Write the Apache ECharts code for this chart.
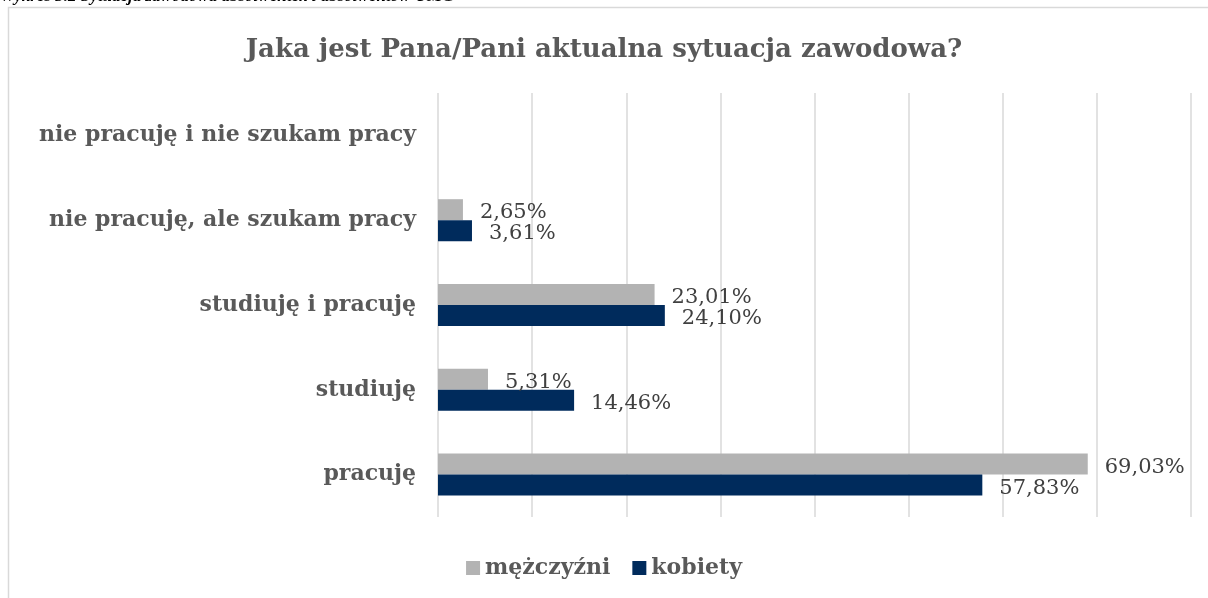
<!DOCTYPE html>
<html>
<head>
<meta charset="utf-8">
<script src="https://cdn.jsdelivr.net/npm/echarts@6/dist/echarts.min.js"></script>
<style>
  html, body { margin: 0; padding: 0; background: #fff; }
  #chart { width: 1208px; height: 598px; }
</style>
</head>
<body>
<div id="chart"></div>
<script>
// kategorie od dołu do góry (oś Y kategorii)
const categories = [
  'pracuję',
  'studiuję',
  'studiuję i pracuję',
  'nie pracuję, ale szukam pracy',
  'nie pracuję i nie szukam pracy'
]
const mezczyzni = [69.03, 5.31, 23.01, 2.65, null]
const kobiety = [57.83, 14.46, 24.10, 3.61, null]
const axisMax = 80
const axisStep = 10

const serif = '"DejaVu Serif", "Liberation Serif", serif'
const fmt = p => p.value == null ? '' : p.value.toFixed(2).replace('.', ',') + '%'

const valueLabel = {
  show: true,
  position: 'right',
  distance: 17,
  offset: [0, 3],
  formatter: fmt,
  fontFamily: serif,
  fontSize: 21,
  color: '#404040'
}

const chart = echarts.init(document.getElementById('chart'))

chart.setOption({
  animation: false,
  title: {
    text: 'Jaka jest Pana/Pani aktualna sytuacja zawodowa?',
    left: 'center',
    top: 32,
    textStyle: { fontFamily: serif, fontSize: 26, fontWeight: 'bold', color: '#595959' }
  },
  graphic: [
    {
      type: 'rect',
      shape: { x: 8.5, y: 7.5, width: 1220, height: 620 },
      style: { fill: 'none', stroke: '#d9d9d9', lineWidth: 1.5 },
      silent: true
    },
    {
      type: 'text',
      left: 0,
      top: -12,
      style: {
        text: 'Wykres 3.2 Sytuacja zawodowa absolwentek i absolwentów UMG',
        font: 'italic bold 17px "Liberation Serif", serif',
        fill: '#000'
      }
    }
  ],
  legend: {
    data: ['mężczyźni', 'kobiety'],
    bottom: 14,
    left: 'center',
    itemWidth: 14,
    itemHeight: 14,
    itemGap: 22,
    icon: 'rect',
    textStyle: { fontFamily: serif, fontSize: 22, fontWeight: 'bold', color: '#595959' }
  },
  grid: { left: 438, right: 17, top: 93, bottom: 81 },
  xAxis: {
    type: 'value',
    min: 0,
    max: axisMax,
    interval: axisStep,
    axisLabel: { show: false },
    axisLine: { show: false },
    axisTick: { show: false },
    splitLine: { show: true, lineStyle: { color: '#d9d9d9', width: 1.5 } }
  },
  yAxis: {
    type: 'category',
    data: categories,
    axisLine: { show: false },
    axisTick: { show: false },
    axisLabel: {
      margin: 22,
      fontFamily: serif,
      fontSize: 22,
      fontWeight: 'bold',
      color: '#595959'
    }
  },
  series: [
    {
      name: 'mężczyźni',
      type: 'bar',
      data: mezczyzni,
      barWidth: 21,
      barGap: '0%',
      itemStyle: { color: '#b3b3b3' },
      label: valueLabel
    },
    {
      name: 'kobiety',
      type: 'bar',
      data: kobiety,
      barWidth: 21,
      barGap: '0%',
      itemStyle: { color: '#002b5c' },
      label: valueLabel
    }
  ]
})
</script>
</body>
</html>
